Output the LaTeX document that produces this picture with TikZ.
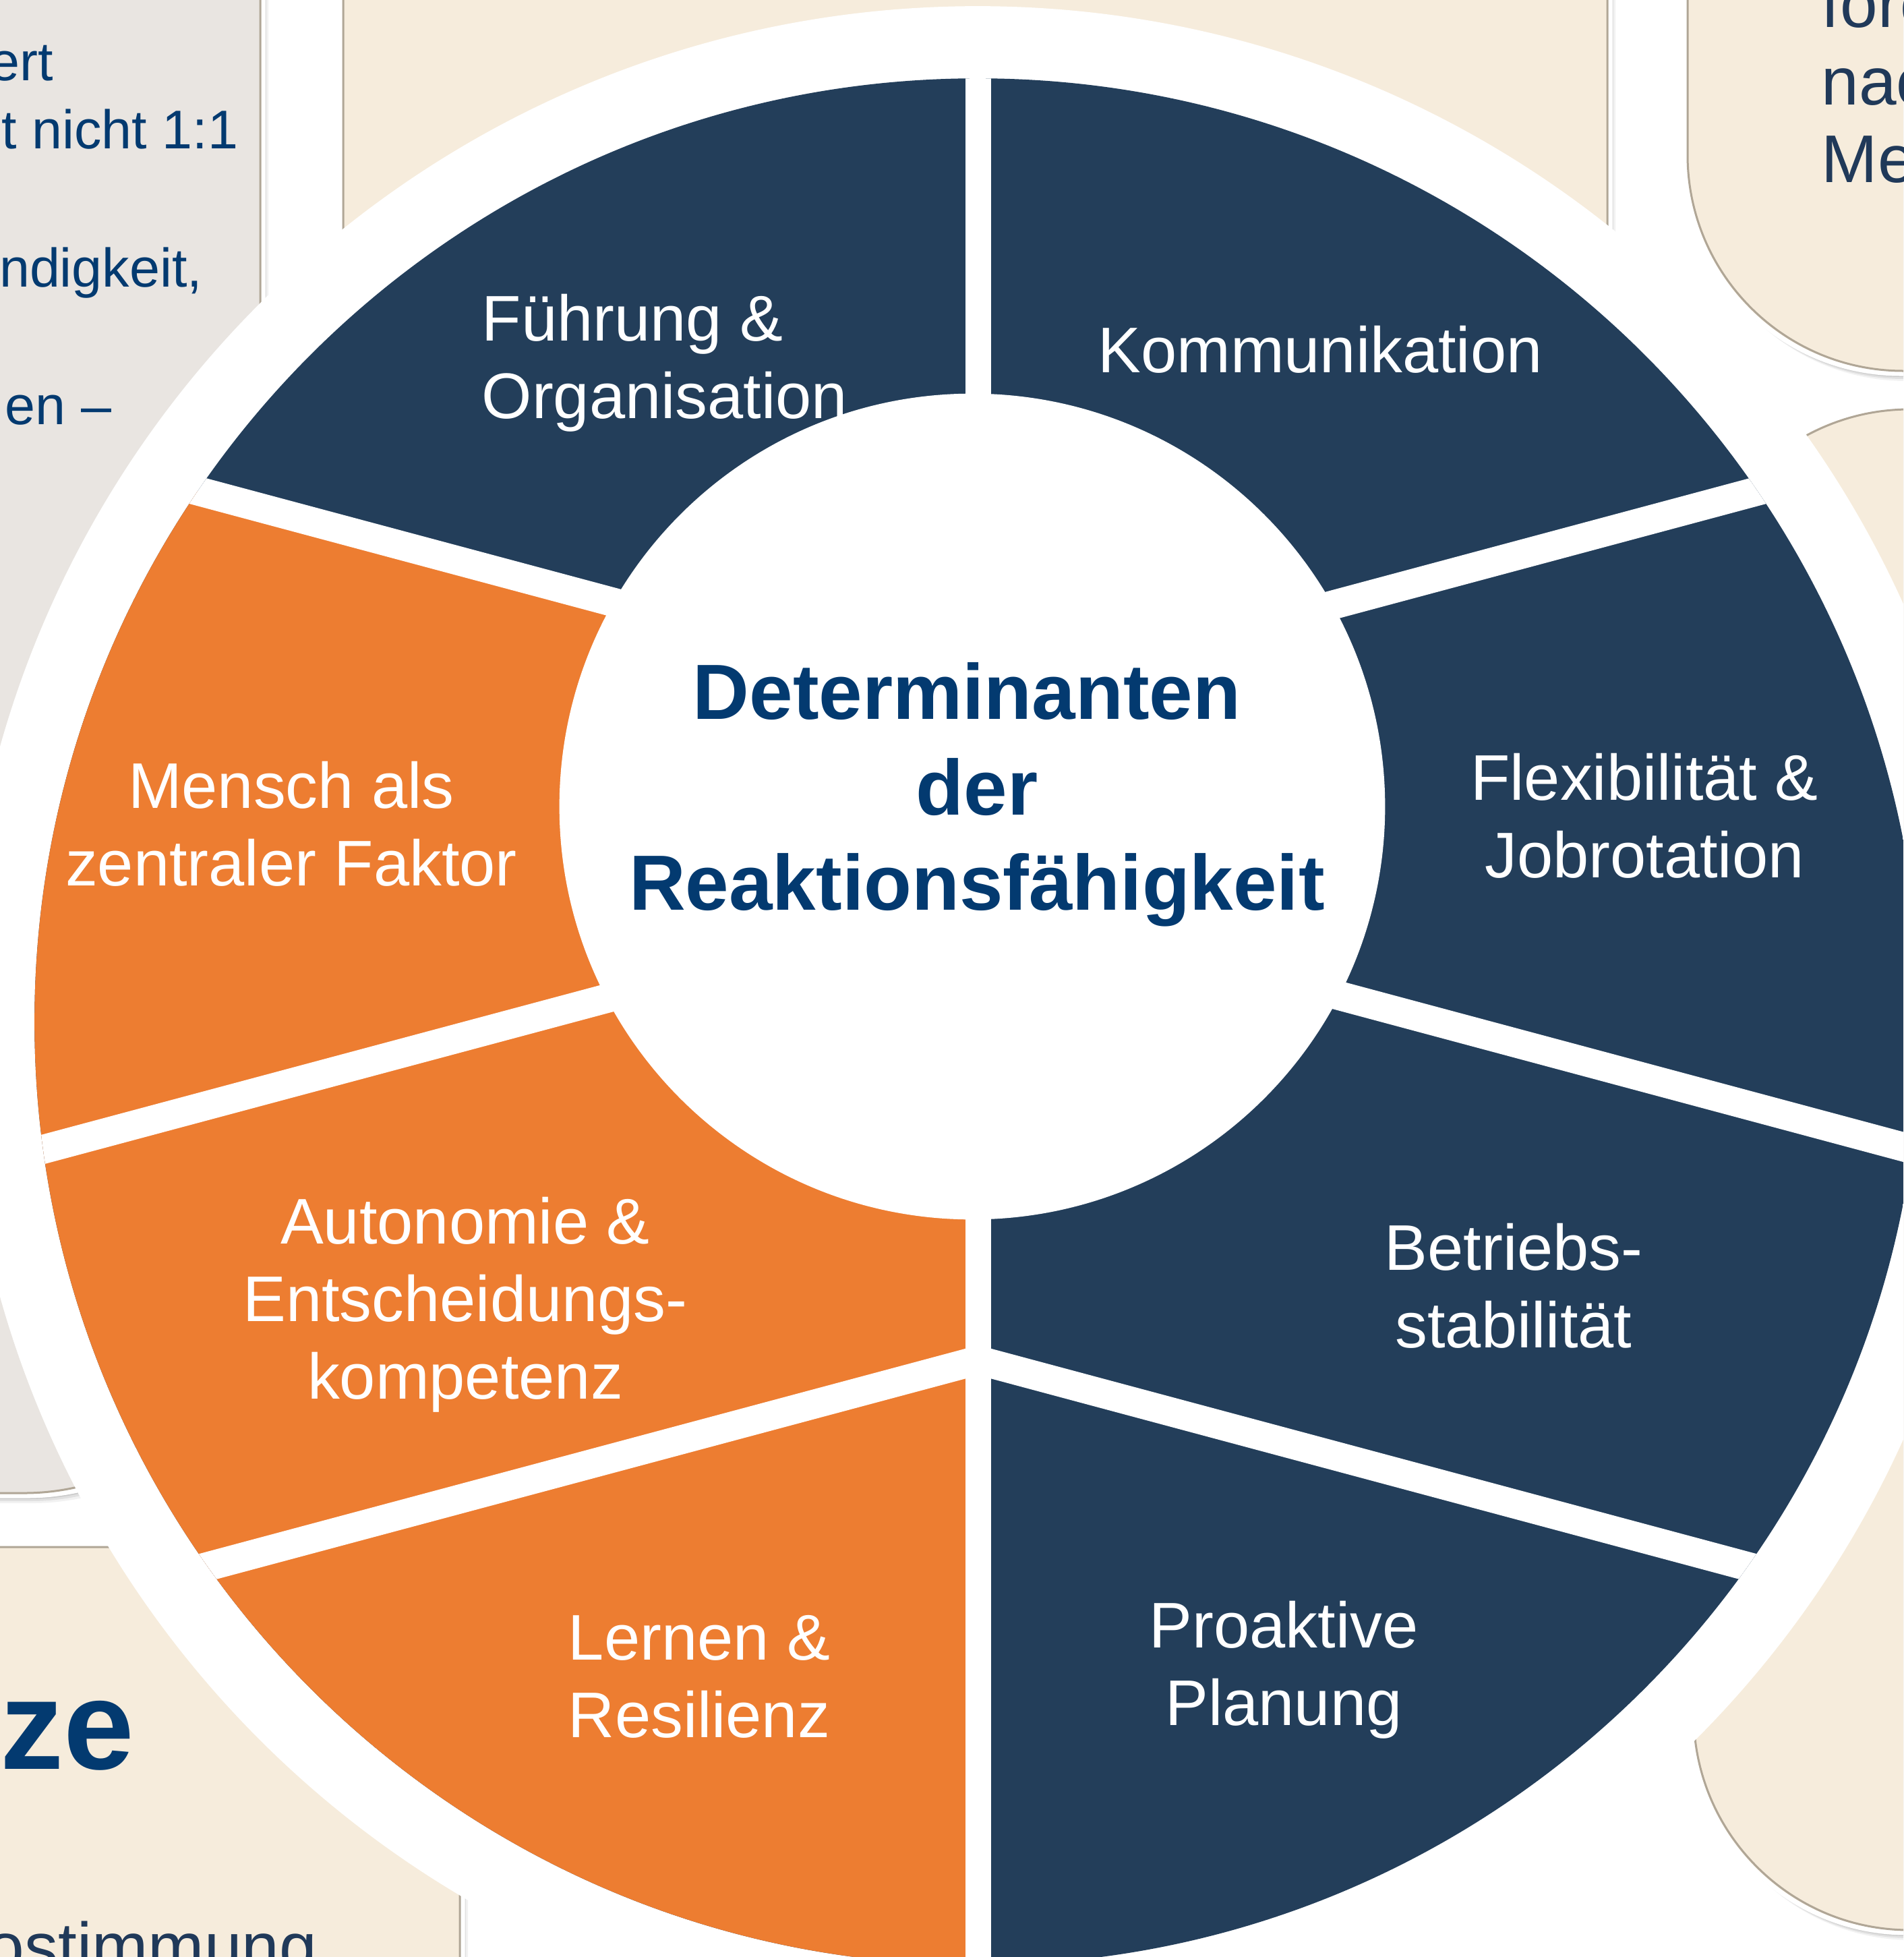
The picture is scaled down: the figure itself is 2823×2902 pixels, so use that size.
\documentclass[tikz,border=0pt]{standalone}
\usepackage{fontspec}
\setmainfont{Liberation Sans}
\definecolor{navy}{RGB}{35,62,90}
\definecolor{orng}{RGB}{237,125,49}
\definecolor{titleblue}{RGB}{3,58,112}
\definecolor{slate}{RGB}{32,57,89}
\definecolor{beige}{RGB}{246,236,220}
\definecolor{greybox}{RGB}{233,229,225}
\definecolor{edgeline}{RGB}{176,166,150}
\newcommand\cardbox[6]{%
  \foreach \shd/\opc in {11/0.05,8/0.07,5/0.09}{%
    \fill[black,opacity=\opc,rounded corners=#6] (#1+\shd-3,#2+\shd) rectangle (#3+\shd-3,#4+\shd);}
  \fill[#5,draw=white,line width=0.07cm,rounded corners=#6] (#1,#2) rectangle (#3,#4);
  \draw[edgeline,line width=0.03cm,rounded corners=#6] (#1+4,#2+4) rectangle (#3-4,#4-4);
}
\begin{document}
\begin{tikzpicture}[x=0.01cm,y=-0.01cm,
  lab/.style={text=white,font=\fontsize{27.2}{32.7}\selectfont,align=center,inner sep=0pt,anchor=base},
  greytxt/.style={text=titleblue,font=\fontsize{23}{29}\selectfont,inner sep=0pt,anchor=base east},
  slatetxt/.style={text=slate,font=\fontsize{28.45}{32.7}\selectfont,inner sep=0pt,align=left,anchor=base west}]
\useasboundingbox (0,0) rectangle (2823,2902);
\clip (0,0) rectangle (2823,2902);
\fill[white] (0,0) rectangle (2823,2902);

% background cards
\cardbox{-600}{-600}{390}{2218}{greybox}{3.5cm}
\cardbox{505}{-600}{2388}{1300}{beige}{3.2cm}
\cardbox{2499}{-600}{3400}{554}{beige}{3.2cm}
\cardbox{2508}{603}{3400}{2866}{beige}{3.2cm}
\cardbox{-600}{2290}{686}{3500}{beige}{3.2cm}

% texts on the cards (multi-line nodes: base = last line)
\node[greytxt] (g1) at (80,119) {ert};
\node[greytxt] (g2) at (354,220) {t nicht 1:1};
\node[greytxt] (g3) at (301,425) {ndigkeit,};
\node[greytxt] (g4) at (166,629) {en –};
\node[slatetxt] (r1) at (2701,270) {forc\\nac\\Me};
\node[text=titleblue,font=\bfseries\fontsize{53.5}{64}\selectfont,inner sep=0pt,anchor=base east] (b1) at (200,2623) {tze};
\node[text=slate,font=\fontsize{28.45}{34}\selectfont,inner sep=0pt,anchor=base west] (b2) at (-20,2921) {ostimmung};

% wheel
\fill[white] (1450,1515) circle[radius=15.05cm];
\begin{scope}
  \clip (1450,1515) circle[radius=13.98cm];
  \fill[navy] (0,0) rectangle (2823,2902);
  \fill[orng] (1451,1038) -- (-200,596) -- (-200,3000) -- (1451,3000) -- cycle;
  \draw[white,line width=0.43cm] (-200,596) -- (1451,1038) -- (3100,596);
  \draw[white,line width=0.43cm] (-200,1775) -- (1451,1333) -- (3100,1775);
  \draw[white,line width=0.43cm] (-200,2459) -- (1451,2017) -- (3100,2459);
  \draw[white,line width=0.38cm] (1451,-100) -- (1451,3000);
\end{scope}
\fill[white] (1442,1196) circle[radius=6.12cm];

% labels (anchor base = baseline of the last line)
\node[lab,align=left,anchor=base west] (fuehrung) at (714,620) {Führung \&\\Organisation};
\node[lab] (komm) at (1958,552) {Kommunikation};
\node[lab] (flex) at (2439,1301) {Flexibilität \&\\Jobrotation};
\node[lab] (betrieb) at (2245,1998) {Betriebs-\\stabilität};
\node[lab] (proaktiv) at (1904,2558) {Proaktive\\Planung};
\node[lab] (lernen) at (1037,2576) {Lernen \&\\Resilienz};
\node[lab] (autonomie) at (690,2074) {Autonomie \&\\Entscheidungs-\\kompetenz};
\node[lab] (mensch) at (432,1313) {Mensch als\\zentraler Faktor};
\node[text=titleblue,font=\bfseries\fontsize{33}{40.1}\selectfont,align=center,inner sep=0pt,anchor=base] (title) at (1449,1349) {Determinanten\hspace*{0.3cm}\\der\hspace*{0.26cm}\\Reaktionsfähigkeit};
\end{tikzpicture}
\end{document}
